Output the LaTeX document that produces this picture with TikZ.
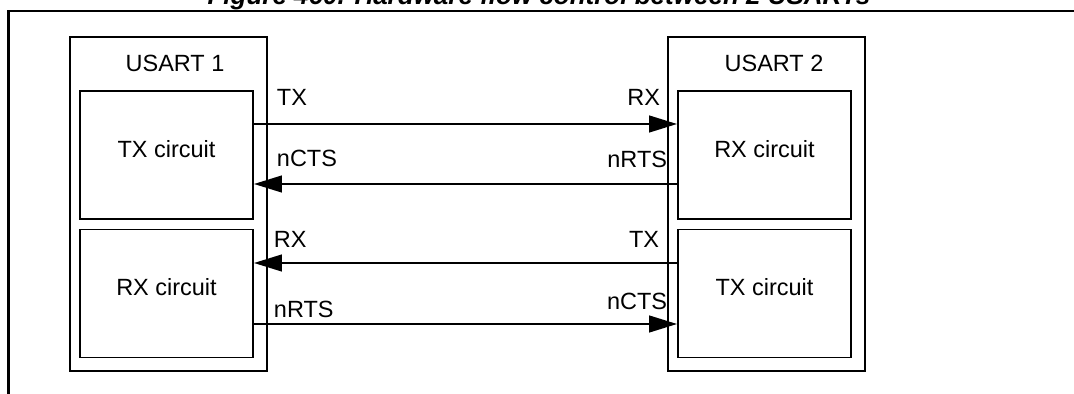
\documentclass[tikz,border=0pt]{standalone}
\usepackage{fontspec}
\setmainfont{Liberation Sans}
\usetikzlibrary{arrows.meta}

\begin{document}
\begin{tikzpicture}[>={Triangle[length=0.7cm,width=0.42cm]},
    line width=1.4pt,
    every node/.style={font=\fontsize{16.7}{20}\selectfont},
    usart/.style={draw, minimum width=4.925cm, minimum height=8.35cm, inner sep=0pt},
    circuit/.style={draw, minimum width=4.325cm, minimum height=3.2cm, inner sep=0pt},
    signal/.style={inner sep=0pt}]

  \clip (0,0) rectangle (26.85,-9.85);

  % Titel
  \node[anchor=base, font=\bfseries\itshape\fontsize{18.5}{22}\selectfont]
    (title) at (13.475,-0.125) {Figure 460. Hardware flow control between 2 USARTs};

  % Kader
  \coordinate (K1) at (0.2125,-9.85);
  \coordinate (K2) at (0.2125,-0.275);
  \coordinate (K3) at (26.85,-0.275);
  \draw[line width=1.6pt] (K1) -- (K2) -- (K3);

  % USART 1
  \node[usart] (usart1) at (4.2125,-5.1) {};
  \node (name1) at (4.375,-1.575) {USART 1};
  \node[circuit, label={[yshift=0.15cm]center:TX circuit}] (tx1) at (4.1625,-3.875) {};
  \node[circuit, label={[yshift=0.15cm]center:RX circuit}] (rx1) at (4.1625,-7.3375) {};

  % USART 2
  \node[usart] (usart2) at (19.1625,-5.1) {};
  \node (name2) at (19.35,-1.575) {USART 2};
  \node[circuit, label={[yshift=0.15cm]center:RX circuit}] (rx2) at (19.1125,-3.875) {};
  \node[circuit, label={[yshift=0.15cm]center:TX circuit}] (tx2) at (19.1125,-7.3375) {};

  % Signalen
  \draw[->] ([yshift=0.775cm]tx1.east) -- ([yshift=0.775cm]rx2.west);
  \draw[->] ([yshift=-0.725cm]rx2.west) -- ([yshift=-0.725cm]tx1.east);
  \draw[->] ([yshift=0.7625cm]tx2.west) -- ([yshift=0.7625cm]rx1.east);
  \draw[->] ([yshift=-0.7625cm]rx1.east) -- ([yshift=-0.7625cm]tx2.west);

  % Labels links
  \node[signal, anchor=base west] (txl1) at (6.9,-2.65) {TX};
  \node[signal, anchor=base west] (ctsl1) at (6.9,-4.175) {nCTS};
  \node[signal, anchor=base west] (rxl1) at (6.825,-6.175) {RX};
  \node[signal, anchor=base west] (rtsl1) at (6.825,-7.925) {nRTS};

  % Labels rechts
  \node[signal, anchor=base east] (rxl2) at (16.525,-2.65) {RX};
  \node[signal, anchor=base east] (rtsl2) at (16.7,-4.2) {nRTS};
  \node[signal, anchor=base east] (txl2) at (16.5,-6.175) {TX};
  \node[signal, anchor=base east] (ctsl2) at (16.7,-7.725) {nCTS};

\end{tikzpicture}
\end{document}
